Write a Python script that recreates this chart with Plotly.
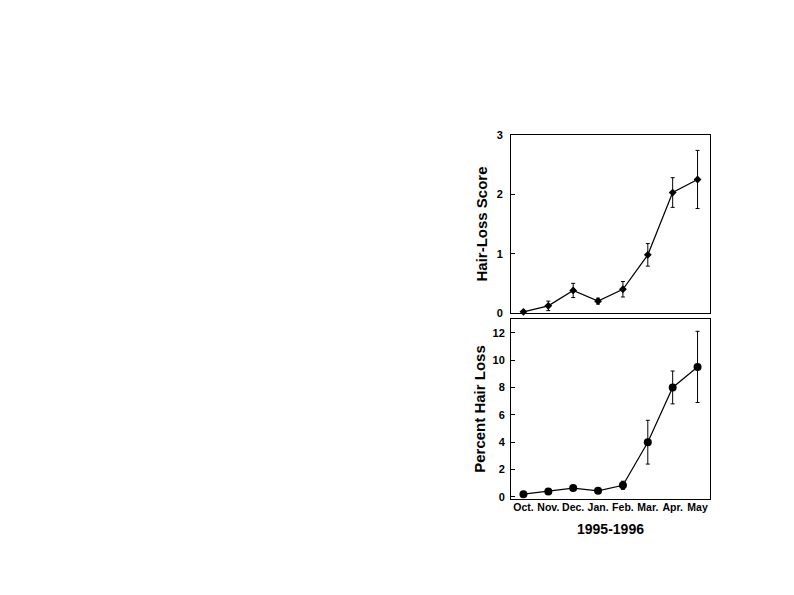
import plotly.graph_objects as go

months = ["Oct.", "Nov.", "Dec.", "Jan.", "Feb.", "Mar.", "Apr.", "May"]
score = [0.02, 0.12, 0.38, 0.2, 0.4, 0.98, 2.03, 2.25]
score_err = [0.0, 0.08, 0.12, 0.05, 0.13, 0.19, 0.25, 0.49]
pct_loss = [0.2, 0.4, 0.65, 0.45, 0.85, 4.0, 8.0, 9.5]
pct_err = [0.0, 0.0, 0.0, 0.0, 0.3, 1.6, 1.2, 2.6]

FONT = "Liberation Sans, Arial, sans-serif"
x_idx = list(range(len(months)))

fig = go.Figure()
fig.add_trace(
    go.Scatter(
        x=x_idx, y=score, mode="lines+markers",
        line=dict(color="black", width=1.2),
        marker=dict(color="black", size=6, symbol="diamond"),
        error_y=dict(type="data", array=score_err, color="black", thickness=1, width=2),
        xaxis="x", yaxis="y", cliponaxis=False, showlegend=False,
    )
)
fig.add_trace(
    go.Scatter(
        x=x_idx, y=pct_loss, mode="lines+markers",
        line=dict(color="black", width=1.2),
        marker=dict(color="black", size=8),
        error_y=dict(type="data", array=pct_err, color="black", thickness=1, width=2),
        xaxis="x2", yaxis="y2", cliponaxis=False, showlegend=False,
    )
)

# page body has an 8px margin, so domains are shifted by that much
axis_common = dict(showline=True, linecolor="black", linewidth=1, mirror=True,
                   showgrid=False, zeroline=False, automargin=False)
tick_font = dict(family=FONT, size=11, color="black", weight="bold")
title_font = dict(family=FONT, size=15, color="black", weight="bold")

fig.update_layout(
    width=794, height=595,
    margin=dict(l=0, r=0, t=0, b=0, autoexpand=False),
    paper_bgcolor="white", plot_bgcolor="white",
    xaxis=dict(domain=[0.6335, 0.8841], range=[-0.5, 7.5], anchor="y",
               showticklabels=False, ticks="", **axis_common),
    yaxis=dict(domain=[0.4874, 0.7866], range=[0, 3.0], anchor="x",
               tickvals=[0, 1, 2, 3], ticks="inside", ticklen=4, tickcolor="black",
               tickfont=tick_font, ticklabelstandoff=5,
               title=dict(text="Hair-Loss Score", standoff=5, font=title_font),
               **axis_common),
    xaxis2=dict(domain=[0.6335, 0.8841], range=[-0.5, 7.5], anchor="y2",
                tickvals=x_idx, ticktext=months, ticks="", tickangle=0,
                tickfont=dict(family=FONT, size=10.5, color="black", weight="bold"),
                ticklabelstandoff=-2,
                title=dict(text="1995-1996", standoff=12,
                           font=dict(family=FONT, size=14, color="black", weight="bold")),
                **axis_common),
    yaxis2=dict(domain=[0.1748, 0.4773], range=[-0.15, 13.0], anchor="x2",
                tickvals=[0, 2, 4, 6, 8, 10, 12], ticks="inside", ticklen=4,
                tickcolor="black", tickfont=tick_font, ticklabelstandoff=3,
                title=dict(text="Percent Hair Loss", standoff=3, font=title_font),
                **axis_common),
)

fig.write_html("out.html")
